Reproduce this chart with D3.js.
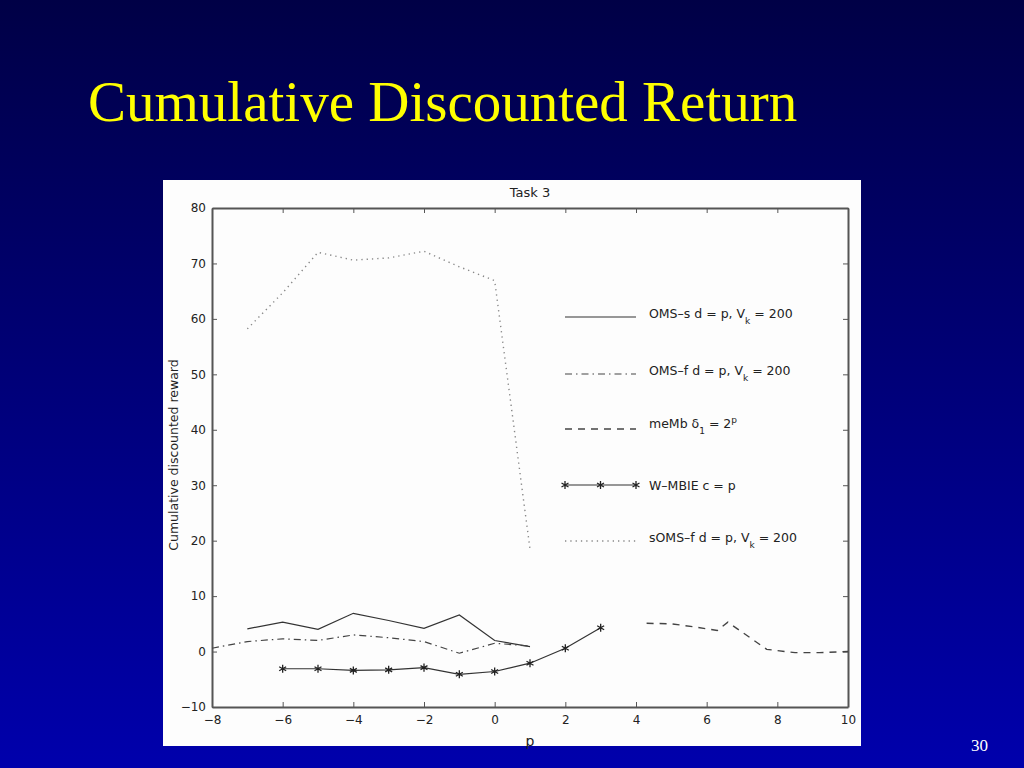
<!DOCTYPE html>
<html><head><meta charset="utf-8">
<script src="https://cdn.jsdelivr.net/npm/d3@7"></script>
<style>html,body{margin:0;padding:0;overflow:hidden;background:#000050}</style>
</head><body>
<script>
// ---- data ----
const slideTitle = "Cumulative Discounted Return";
const chartTitle = "Task 3";
const xLabel = "p";
const yLabel = "Cumulative discounted reward";
const pageNumber = "30";
const xTicks = [-8,-6,-4,-2,0,2,4,6,8,10];
const yTicks = [-10,0,10,20,30,40,50,60,70,80];

const omsS_x = [-7,-6,-5,-4,-3,-2,-1,0,1];
const omsS_y = [4.1,5.3,4.0,6.9,5.6,4.2,6.6,2.0,0.9];

const omsF_x = [-8,-7,-6,-5,-4,-3,-2,-1,0,1];
const omsF_y = [0.6,1.8,2.3,2.0,3.0,2.5,1.8,-0.3,1.5,1.0];

const memb_x = [4.3,5,5.6,6.3,6.6,7.7,8.5,9.2,10];
const memb_y = [5.1,5.0,4.5,3.8,5.3,0.4,-0.2,-0.2,0.0];

const wmbie_x = [-6,-5,-4,-3,-2,-1,0,1,2,3];
const wmbie_y = [-3.1,-3.1,-3.4,-3.3,-2.9,-4.1,-3.6,-2.1,0.6,4.3];

const soms_x = [-7,-6,-5,-4,-3,-2,-1,0,1];
const soms_y = [58.2,64.7,72.0,70.6,71.0,72.2,69.4,66.9,18.5];

const legendNames = ["OMS–s d = p, V_k = 200","OMS–f d = p, V_k = 200","meMb δ_1 = 2^p","W–MBIE c = p","sOMS–f d = p, V_k = 200"];

// ---- drawing ----
const W = 1024, H = 768;
const svg = d3.select("body").append("svg").attr("width", W).attr("height", H);
const defs = svg.append("defs");
const grad = defs.append("linearGradient").attr("id","bg").attr("x1",0).attr("y1",0).attr("x2",0).attr("y2",1);
grad.append("stop").attr("offset","0%").attr("stop-color","#000046");
grad.append("stop").attr("offset","100%").attr("stop-color","#0000ac");
svg.append("rect").attr("width",W).attr("height",H).attr("fill","url(#bg)");

svg.append("text").attr("x",88).attr("y",121)
  .attr("font-family","'Liberation Serif','Times New Roman',serif").attr("font-size",57)
  .attr("fill","#ffff00").text(slideTitle);

svg.append("text").attr("x",988).attr("y",751).attr("text-anchor","end")
  .attr("font-family","'Liberation Serif','Times New Roman',serif").attr("font-size",17)
  .attr("fill","#ffffff").text(pageNumber);

// white panel
svg.append("rect").attr("x",163).attr("y",180).attr("width",698).attr("height",566).attr("fill","#fdfdfd");

const x = d3.scaleLinear().domain([-8,10]).range([212,848]);
const y = d3.scaleLinear().domain([-10,80]).range([707,208]);
const axisColor = "#555";
const tickFont = "'DejaVu Sans',sans-serif";

function styleAxis(g){
  g.selectAll("path").attr("stroke",axisColor).attr("stroke-width",2);
  g.selectAll("line").attr("stroke",axisColor).attr("stroke-width",1);
  g.selectAll("text").attr("fill","#222").attr("font-family",tickFont).attr("font-size",12);
}
const fmt = d=>d<0?"−"+Math.abs(d):d;
const gB = svg.append("g").attr("transform",`translate(0,${y(-10)})`)
  .call(d3.axisBottom(x).tickValues(xTicks).tickSizeInner(-5).tickSizeOuter(0).tickPadding(8).tickFormat(fmt));
styleAxis(gB);
const gT = svg.append("g").attr("transform",`translate(0,${y(80)})`)
  .call(d3.axisTop(x).tickValues(xTicks).tickSizeInner(-5).tickSizeOuter(0).tickFormat(""));
styleAxis(gT);
const gL = svg.append("g").attr("transform",`translate(${x(-8)},0)`)
  .call(d3.axisLeft(y).tickValues(yTicks).tickSizeInner(-5).tickSizeOuter(0).tickPadding(6).tickFormat(fmt));
styleAxis(gL);
const gR = svg.append("g").attr("transform",`translate(${x(10)},0)`)
  .call(d3.axisRight(y).tickValues(yTicks).tickSizeInner(-5).tickSizeOuter(0).tickFormat(""));
styleAxis(gR);

svg.append("text").attr("x",(x(-8)+x(10))/2).attr("y",197).attr("text-anchor","middle")
  .attr("font-family",tickFont).attr("font-size",13).attr("fill","#222").text(chartTitle);
svg.append("text").attr("x",(x(-8)+x(10))/2).attr("y",746).attr("text-anchor","middle")
  .attr("font-family",tickFont).attr("font-size",14).attr("fill","#222").text(xLabel);
svg.append("text").attr("transform",`translate(178,${455}) rotate(-90)`).attr("text-anchor","middle")
  .attr("font-family",tickFont).attr("font-size",12.5).attr("fill","#222").text(yLabel);

const line = d3.line().x(d=>x(d[0])).y(d=>y(d[1]));
const zip = (a,b)=>a.map((v,i)=>[v,b[i]]);
const styles = [
  {dash:null, color:"#333", w:1.2},
  {dash:"7,4,1.5,4", color:"#444", w:1.2},
  {dash:"7,6", color:"#444", w:1.4},
  {dash:null, color:"#333", w:1.2},
  {dash:"1.3,4", color:"#888", w:1.4}
];
const series = [zip(omsS_x,omsS_y), zip(omsF_x,omsF_y), zip(memb_x,memb_y), zip(wmbie_x,wmbie_y), zip(soms_x,soms_y)];
series.forEach((s,i)=>{
  svg.append("path").datum(s).attr("d",line).attr("fill","none")
    .attr("stroke",styles[i].color).attr("stroke-width",styles[i].w)
    .attr("stroke-dasharray",styles[i].dash);
});
const star = d3.symbol(d3.symbolAsterisk, 45);
svg.append("g").selectAll("path").data(series[3]).join("path")
  .attr("transform",d=>`translate(${x(d[0])},${y(d[1])})`).attr("d",star)
  .attr("fill","none").attr("stroke","#222").attr("stroke-width",1.3);

// legend
const legY = [317, 374, 429, 485, 541];
const textOff = [1, 1, -1, 5, 1];
const lx1 = 565, lx2 = 636, tx = 649;
const leg = svg.append("g");
legendNames.forEach((name,i)=>{
  leg.append("line").attr("x1",lx1).attr("x2",lx2).attr("y1",legY[i]).attr("y2",legY[i])
    .attr("stroke",styles[i].color).attr("stroke-width",styles[i].w).attr("stroke-dasharray",styles[i].dash);
  if(i===3){
    [lx1,(lx1+lx2)/2,lx2].forEach(px=>{
      leg.append("path").attr("transform",`translate(${px},${legY[i]})`).attr("d",star)
        .attr("fill","none").attr("stroke","#222").attr("stroke-width",1.3);
    });
  }
  const t = leg.append("text").attr("x",tx).attr("y",legY[i]+textOff[i]).attr("font-family",tickFont)
    .attr("font-size",12.5).attr("fill","#222");
  const parts = name.split(/([_^].)/).filter(p=>p.length);
  let shift = 0;
  parts.forEach(p=>{
    if(p[0]==="_"){ t.append("tspan").attr("dy",6-shift).attr("font-size",9).attr("fill","#222").text(p[1]); shift=6; }
    else if(p[0]==="^"){ t.append("tspan").attr("dy",-5-shift).attr("font-size",9).attr("fill","#222").text(p[1]); shift=-5; }
    else { t.append("tspan").attr("dy",-shift).attr("fill","#222").text(p); shift=0; }
  });
});
</script>
</body></html>
